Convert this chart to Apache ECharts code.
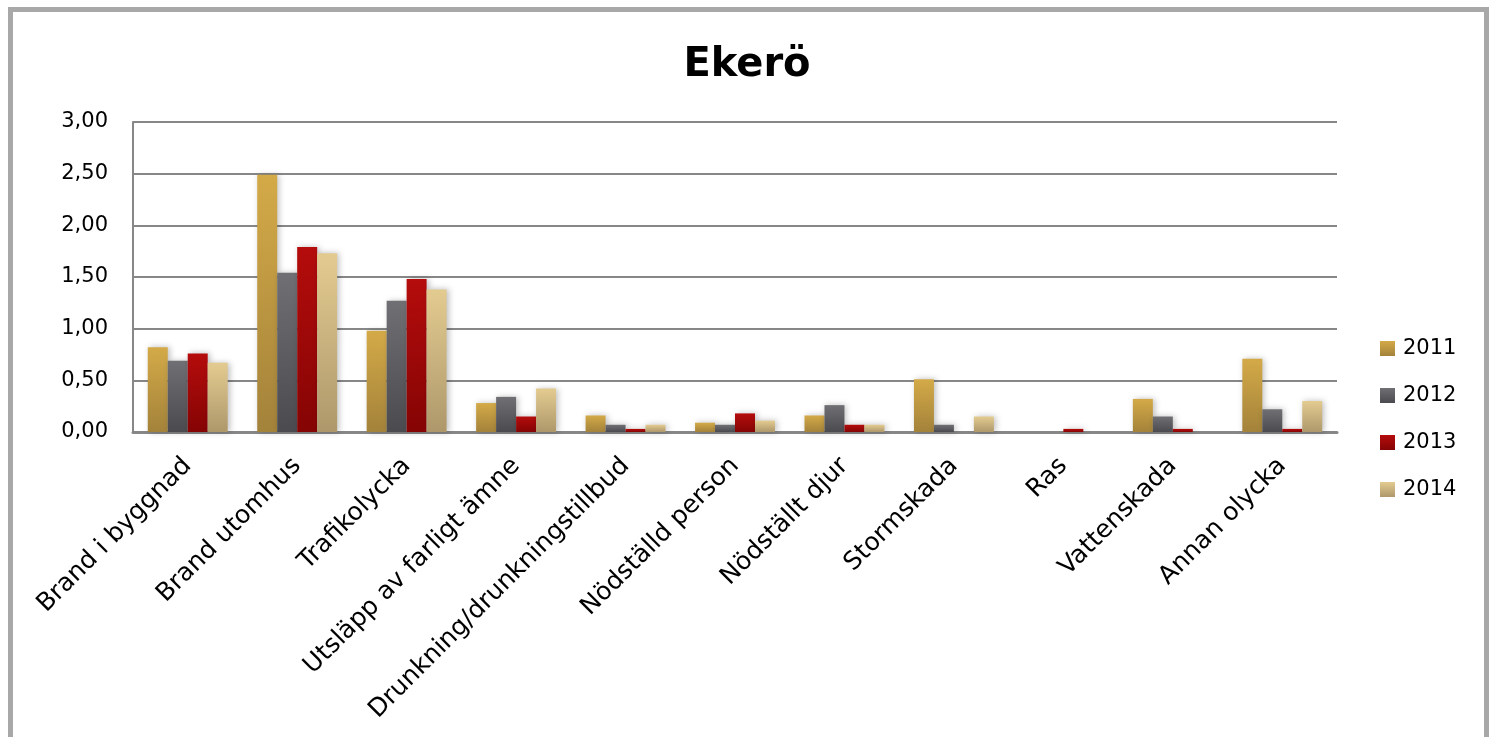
<!DOCTYPE html>
<html>
<head>
<meta charset="utf-8">
<script src="https://cdn.jsdelivr.net/npm/echarts@6/dist/echarts.min.js"></script>
<style>
html,body{margin:0;padding:0;background:#fff;}
#c{width:1494px;height:737px;}
</style>
</head>
<body>
<div id="c"></div>
<script>
const categories = ['Brand i byggnad','Brand utomhus','Trafikolycka','Utsläpp av farligt ämne','Drunkning/drunkningstillbud','Nödställd person','Nödställt djur','Stormskada','Ras','Vattenskada','Annan olycka'];
const years = ['2011','2012','2013','2014'];
const v2011 = [0.82, 2.49, 0.98, 0.28, 0.16, 0.09, 0.16, 0.51, 0, 0.32, 0.71];
const v2012 = [0.69, 1.54, 1.27, 0.34, 0.07, 0.07, 0.26, 0.07, 0, 0.15, 0.22];
const v2013 = [0.76, 1.79, 1.48, 0.15, 0.03, 0.18, 0.07, 0, 0.03, 0.03, 0.03];
const v2014 = [0.67, 1.73, 1.38, 0.42, 0.07, 0.11, 0.07, 0.15, 0, 0, 0.30];
const yTicks = [0, 0.5, 1, 1.5, 2, 2.5, 3];

const FONT = 'DejaVu Sans';
const grads = [
  ['#d4aa48','#a3823a'],
  ['#707074','#4a4a4f'],
  ['#b50c0c','#850404'],
  ['#e3cb90','#ae986b']
];
function grad(c){
  return new echarts.graphic.LinearGradient(0,0,0,1,[{offset:0,color:c[0]},{offset:1,color:c[1]}]);
}
const seriesData = [v2011, v2012, v2013, v2014];
const chart = echarts.init(document.getElementById('c'));
chart.setOption({
  backgroundColor:'#fff',
  animation:false,
  title:{
    text:'Ekerö', left:'center', top:41,
    textStyle:{fontFamily:FONT, fontWeight:'bold', fontSize:40, color:'#000'}
  },
  legend:{
    orient:'vertical', left:1375, top:333, itemGap:26,
    itemWidth:15, itemHeight:15, icon:'rect',
    textStyle:{fontFamily:FONT, fontSize:21, color:'#000', padding:[0,0,0,3]},
    data: years
  },
  grid:{left:133, right:157, top:122, bottom:305},
  xAxis:{
    type:'category', data:categories,
    axisLine:{lineStyle:{color:'#878787', width:3}},
    axisTick:{show:false},
    axisLabel:{rotate:45, interval:0, fontFamily:FONT, fontSize:25, color:'#000', margin:30}
  },
  yAxis:{
    type:'value', min:0, max:3, interval:0.5,
    axisLine:{show:true, lineStyle:{color:'#878787', width:2}},
    axisTick:{show:false},
    splitLine:{lineStyle:{color:'#878787', width:2}},
    axisLabel:{fontFamily:FONT, fontSize:21, color:'#000', margin:25,
      formatter:v=>v.toFixed(2).replace('.',',')}
  },
  graphic:[{
    type:'rect', silent:true, z:100,
    shape:{x:10.5, y:9.5, width:1476, height:800},
    style:{fill:'none', stroke:'#a8a8a8', lineWidth:5}
  }],
  series: years.map((y,i)=>({
    name:y, type:'bar', data:seriesData[i],
    barGap:'0%', barCategoryGap:'27%',
    itemStyle:{color:grad(grads[i]), shadowBlur:6, shadowColor:'rgba(0,0,0,0.25)', shadowOffsetX:2}
  }))
});
</script>
</body>
</html>
